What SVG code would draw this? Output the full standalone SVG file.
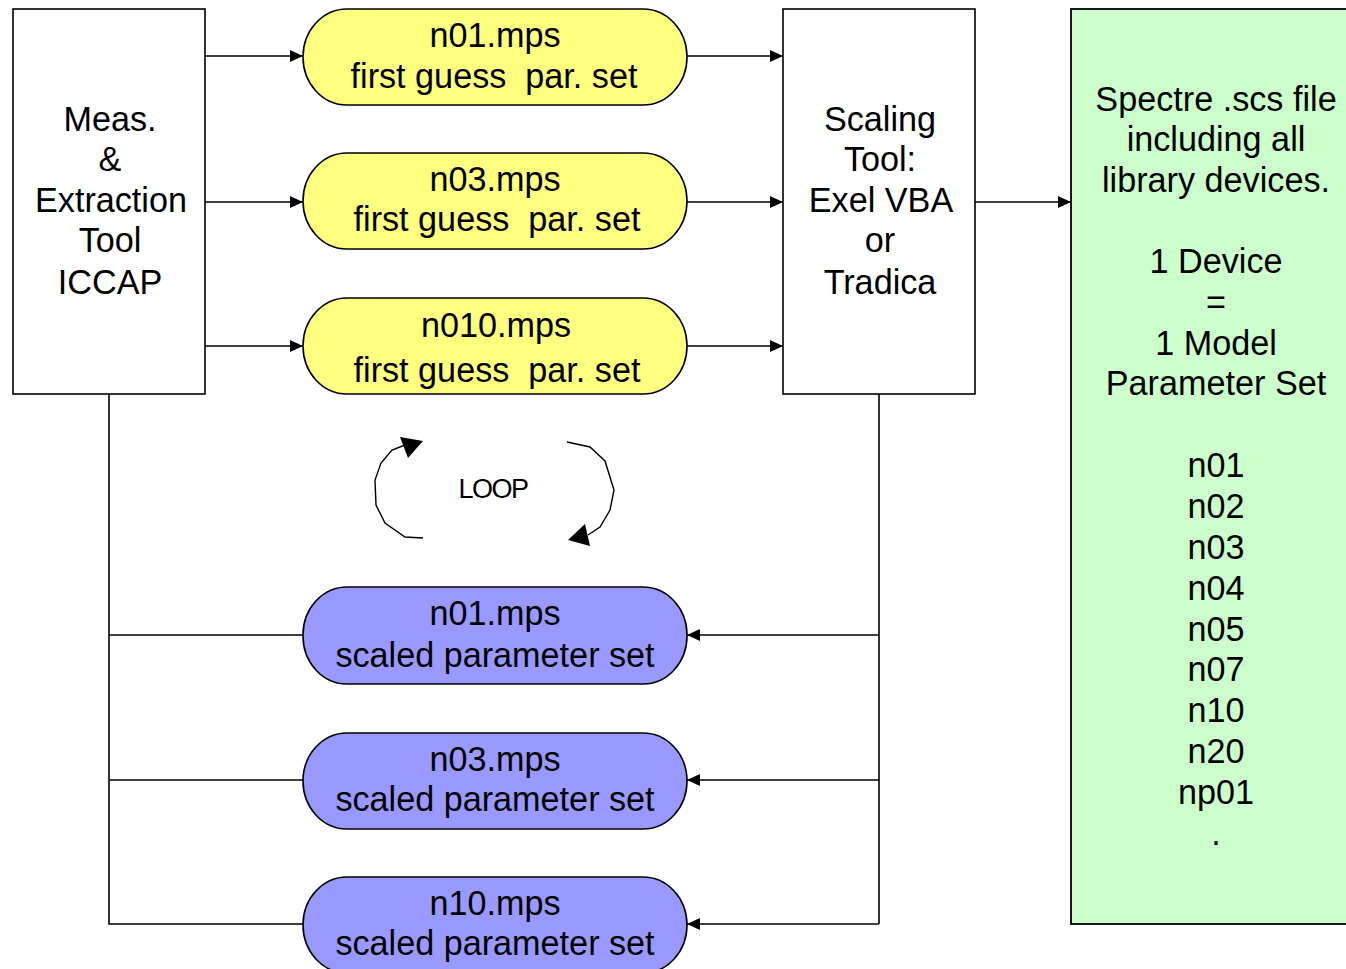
<svg xmlns="http://www.w3.org/2000/svg" width="1346" height="969" viewBox="0 0 1346 969">
<style>
text{font-family:"Liberation Sans",Arial,sans-serif;font-size:34.2px;fill:#000;text-anchor:middle;white-space:pre}
.box{fill:#fff;stroke:#000;stroke-width:1.6}
.yel{fill:#FFFF80;stroke:#000;stroke-width:1.6}
.blu{fill:#9999FF;stroke:#000;stroke-width:1.6}
.grn{fill:#CCFFCC;stroke:#000;stroke-width:1.8}
.ln{fill:none;stroke:#000;stroke-width:1.6}
.loop{fill:none;stroke:#000;stroke-width:1.4}
</style>
<defs>
<marker id="ah" viewBox="0 0 13 12" refX="13" refY="6" markerWidth="13" markerHeight="12" markerUnits="userSpaceOnUse" orient="auto">
<path d="M0,0 L13,6 L0,12 z" fill="#000"/>
</marker>
</defs>

<g id="connectors">
<line class="ln" x1="205" y1="56" x2="303" y2="56" marker-end="url(#ah)"/>
<line class="ln" x1="205" y1="202" x2="303" y2="202" marker-end="url(#ah)"/>
<line class="ln" x1="205" y1="346" x2="303" y2="346" marker-end="url(#ah)"/>
<line class="ln" x1="687" y1="56" x2="783" y2="56" marker-end="url(#ah)"/>
<line class="ln" x1="687" y1="202" x2="783" y2="202" marker-end="url(#ah)"/>
<line class="ln" x1="687" y1="346" x2="783" y2="346" marker-end="url(#ah)"/>
<line class="ln" x1="975" y1="202" x2="1071" y2="202" marker-end="url(#ah)"/>
<polyline class="ln" points="109,394 109,924 303,924"/>
<line class="ln" x1="109" y1="635" x2="303" y2="635"/>
<line class="ln" x1="109" y1="780" x2="303" y2="780"/>
<line class="ln" x1="879" y1="394" x2="879" y2="924"/>
<line class="ln" x1="879" y1="635" x2="687" y2="635" marker-end="url(#ah)"/>
<line class="ln" x1="879" y1="780" x2="687" y2="780" marker-end="url(#ah)"/>
<line class="ln" x1="879" y1="924" x2="687" y2="924" marker-end="url(#ah)"/>
</g>

<g id="loop">
<path class="loop" d="M423,538 L405,537 L385,523 L376,505 L375,480 L381,463 L392,450 L405,445" />
<path class="loop" d="M567,442 L590,447 L605,461 L614,490 L610,510 L600,527 L588,535" />
<path d="M423,441 L400,437 L408,458 Z" fill="#000"/>
<path d="M568,540 L590,546 L585,524 Z" fill="#000"/>
<text x="493" y="498" style="font-size:27px;letter-spacing:-1.5px">LOOP</text>
</g>

<g id="meas">
<rect class="box" x="13" y="9" width="192" height="385"/>
<text x="110" y="131">Meas.</text>
<text x="110" y="171">&amp;</text>
<text x="111" y="212">Extraction</text>
<text x="110" y="252">Tool</text>
<text x="110" y="294">ICCAP</text>
</g>

<g id="scaling">
<rect class="box" x="783" y="9" width="192" height="385"/>
<text x="880" y="131">Scaling</text>
<text x="880" y="171">Tool:</text>
<text x="881" y="212">Exel VBA</text>
<text x="880" y="252">or</text>
<text x="880" y="294">Tradica</text>
</g>

<g id="spectre">
<rect class="grn" x="1071" y="9" width="290" height="915"/>
<text x="1216" y="111">Spectre .scs file</text>
<text x="1216" y="151">including all</text>
<text x="1216" y="192">library devices.</text>
<text x="1216" y="273">1 Device</text>
<text x="1216" y="314">=</text>
<text x="1216" y="355">1 Model</text>
<text x="1216" y="395">Parameter Set</text>
<text x="1216" y="477">n01</text>
<text x="1216" y="518">n02</text>
<text x="1216" y="559">n03</text>
<text x="1216" y="600">n04</text>
<text x="1216" y="641">n05</text>
<text x="1216" y="681">n07</text>
<text x="1216" y="722">n10</text>
<text x="1216" y="763">n20</text>
<text x="1216" y="804">np01</text>
<text x="1216" y="845">.</text>
</g>

<g id="y1">
<rect class="yel" x="303" y="9" width="384" height="96" rx="44" ry="48"/>
<text x="495" y="47">n01.mps</text>
<text x="494" y="88">first guess  par. set</text>
</g>
<g id="y2">
<rect class="yel" x="303" y="153" width="384" height="96" rx="44" ry="48"/>
<text x="495" y="191">n03.mps</text>
<text x="497" y="231">first guess  par. set</text>
</g>
<g id="y3">
<rect class="yel" x="303" y="298" width="384" height="96" rx="44" ry="48"/>
<text x="496" y="337">n010.mps</text>
<text x="497" y="382">first guess  par. set</text>
</g>

<g id="b1">
<rect class="blu" x="303" y="587" width="384" height="97" rx="44" ry="48"/>
<text x="495" y="625">n01.mps</text>
<text x="495" y="667">scaled parameter set</text>
</g>
<g id="b2">
<rect class="blu" x="303" y="733" width="384" height="96" rx="44" ry="48"/>
<text x="495" y="771">n03.mps</text>
<text x="495" y="811">scaled parameter set</text>
</g>
<g id="b3">
<rect class="blu" x="303" y="877" width="384" height="96" rx="44" ry="48"/>
<text x="495" y="915">n10.mps</text>
<text x="495" y="955">scaled parameter set</text>
</g>
</svg>
